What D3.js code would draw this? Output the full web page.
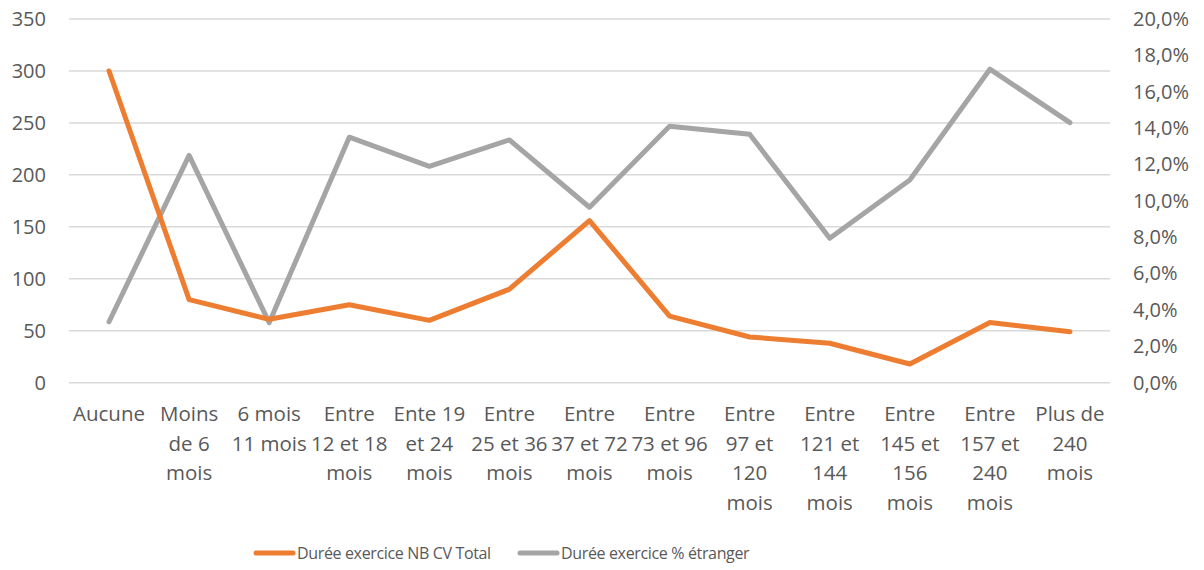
<!DOCTYPE html>
<html>
<head>
<meta charset="utf-8">
<script src="https://cdn.jsdelivr.net/npm/d3@7"></script>
<style>
  html, body { margin: 0; padding: 0; background: #fff; }
  svg { display: block; font-family: "Open Sans", sans-serif; }
</style>
</head>
<body>
<svg id="chart" width="1204" height="570"></svg>
<script>
// Category labels, one entry per line of the wrapped label
const categories = [
  ["Aucune"],
  ["Moins", "de 6", "mois"],
  ["6 mois", "11 mois"],
  ["Entre", "12 et 18", "mois"],
  ["Ente 19", "et 24", "mois"],
  ["Entre", "25 et 36", "mois"],
  ["Entre", "37 et 72", "mois"],
  ["Entre", "73 et 96", "mois"],
  ["Entre", "97 et", "120", "mois"],
  ["Entre", "121 et", "144", "mois"],
  ["Entre", "145 et", "156", "mois"],
  ["Entre", "157 et", "240", "mois"],
  ["Plus de", "240", "mois"]
];

// Number of CVs per duration band (left axis)
const nbCvTotal = [300, 80, 61, 75, 60, 90, 156, 64, 44, 38, 18, 58, 49];

// Share of foreign CVs per duration band (right axis)
const pctEtranger = [0.0335, 0.125, 0.033, 0.135, 0.119, 0.1335, 0.0965, 0.141, 0.1366, 0.0794, 0.1115, 0.1724, 0.143];

const leftTicks = [0, 50, 100, 150, 200, 250, 300, 350];
const rightTicks = [0, 0.02, 0.04, 0.06, 0.08, 0.10, 0.12, 0.14, 0.16, 0.18, 0.20];

const seriesNames = ["Durée exercice NB CV Total", "Durée exercice % étranger"];
const colors = ["#ED7D31", "#A5A5A5"];
const textColor = "#595959";

const svg = d3.select("#chart");
const plot = { left: 69, right: 1110, top: 19, bottom: 382.7 };

const keys = categories.map((c, i) => i);
const x = d3.scalePoint().domain(keys).range([plot.left, plot.right]).padding(0.5);
const yL = d3.scaleLinear().domain([0, 350]).range([plot.bottom, plot.top]);
const yR = d3.scaleLinear().domain([0, 0.2]).range([plot.bottom, plot.top]);

// Horizontal gridlines
svg.append("g")
  .selectAll("line")
  .data(leftTicks)
  .join("line")
  .attr("x1", plot.left)
  .attr("x2", plot.right)
  .attr("y1", d => yL(d))
  .attr("y2", d => yL(d))
  .attr("stroke", "#D9D9D9")
  .attr("stroke-width", 1.5);

// Left axis
const axL = svg.append("g")
  .attr("transform", `translate(${46},0)`)
  .call(d3.axisLeft(yL).tickValues(leftTicks).tickSize(0).tickPadding(0).tickFormat(d3.format("d")));
axL.select(".domain").remove();
axL.selectAll("text")
  .attr("fill", textColor)
  .style("font-size", "20px")
  .style("font-family", "'Open Sans', sans-serif");

// Right axis
const pctFmt = d => d3.format(".1f")(d * 100).replace(".", ",") + "%";
const axR = svg.append("g")
  .attr("transform", `translate(${1133},0)`)
  .call(d3.axisRight(yR).tickValues(rightTicks).tickSize(0).tickPadding(0).tickFormat(pctFmt));
axR.select(".domain").remove();
axR.selectAll("text")
  .attr("fill", textColor)
  .style("font-size", "20px")
  .style("font-family", "'Open Sans', sans-serif");

// Category labels
const catG = svg.append("g");
categories.forEach((lines, i) => {
  const t = catG.append("text")
    .attr("text-anchor", "middle")
    .attr("fill", textColor)
    .style("font-size", "20.5px");
  lines.forEach((ln, j) => {
    t.append("tspan")
      .attr("x", x(i))
      .attr("y", 421 + j * 29.6)
      .text(ln);
  });
});

// Lines
const lineL = d3.line().x((d, i) => x(i)).y(d => yL(d));
const lineR = d3.line().x((d, i) => x(i)).y(d => yR(d));

svg.append("path")
  .datum(pctEtranger)
  .attr("d", lineR)
  .attr("fill", "none")
  .attr("stroke", colors[1])
  .attr("stroke-width", 5)
  .attr("stroke-linejoin", "round")
  .attr("stroke-linecap", "round");

svg.append("path")
  .datum(nbCvTotal)
  .attr("d", lineL)
  .attr("fill", "none")
  .attr("stroke", colors[0])
  .attr("stroke-width", 5)
  .attr("stroke-linejoin", "round")
  .attr("stroke-linecap", "round");

// Legend
const legendItems = [
  { x: 256, name: seriesNames[0], color: colors[0] },
  { x: 520, name: seriesNames[1], color: colors[1] }
];
const lg = svg.append("g");
legendItems.forEach(it => {
  lg.append("line")
    .attr("x1", it.x).attr("x2", it.x + 37)
    .attr("y1", 553).attr("y2", 553)
    .attr("stroke", it.color)
    .attr("stroke-width", 5)
    .attr("stroke-linecap", "round");
  lg.append("text")
    .attr("x", it.x + 41)
    .attr("y", 559)
    .attr("fill", textColor)
    .style("font-size", "16px")
    .style("letter-spacing", "-0.35px")
    .text(it.name);
});
</script>
</body>
</html>
